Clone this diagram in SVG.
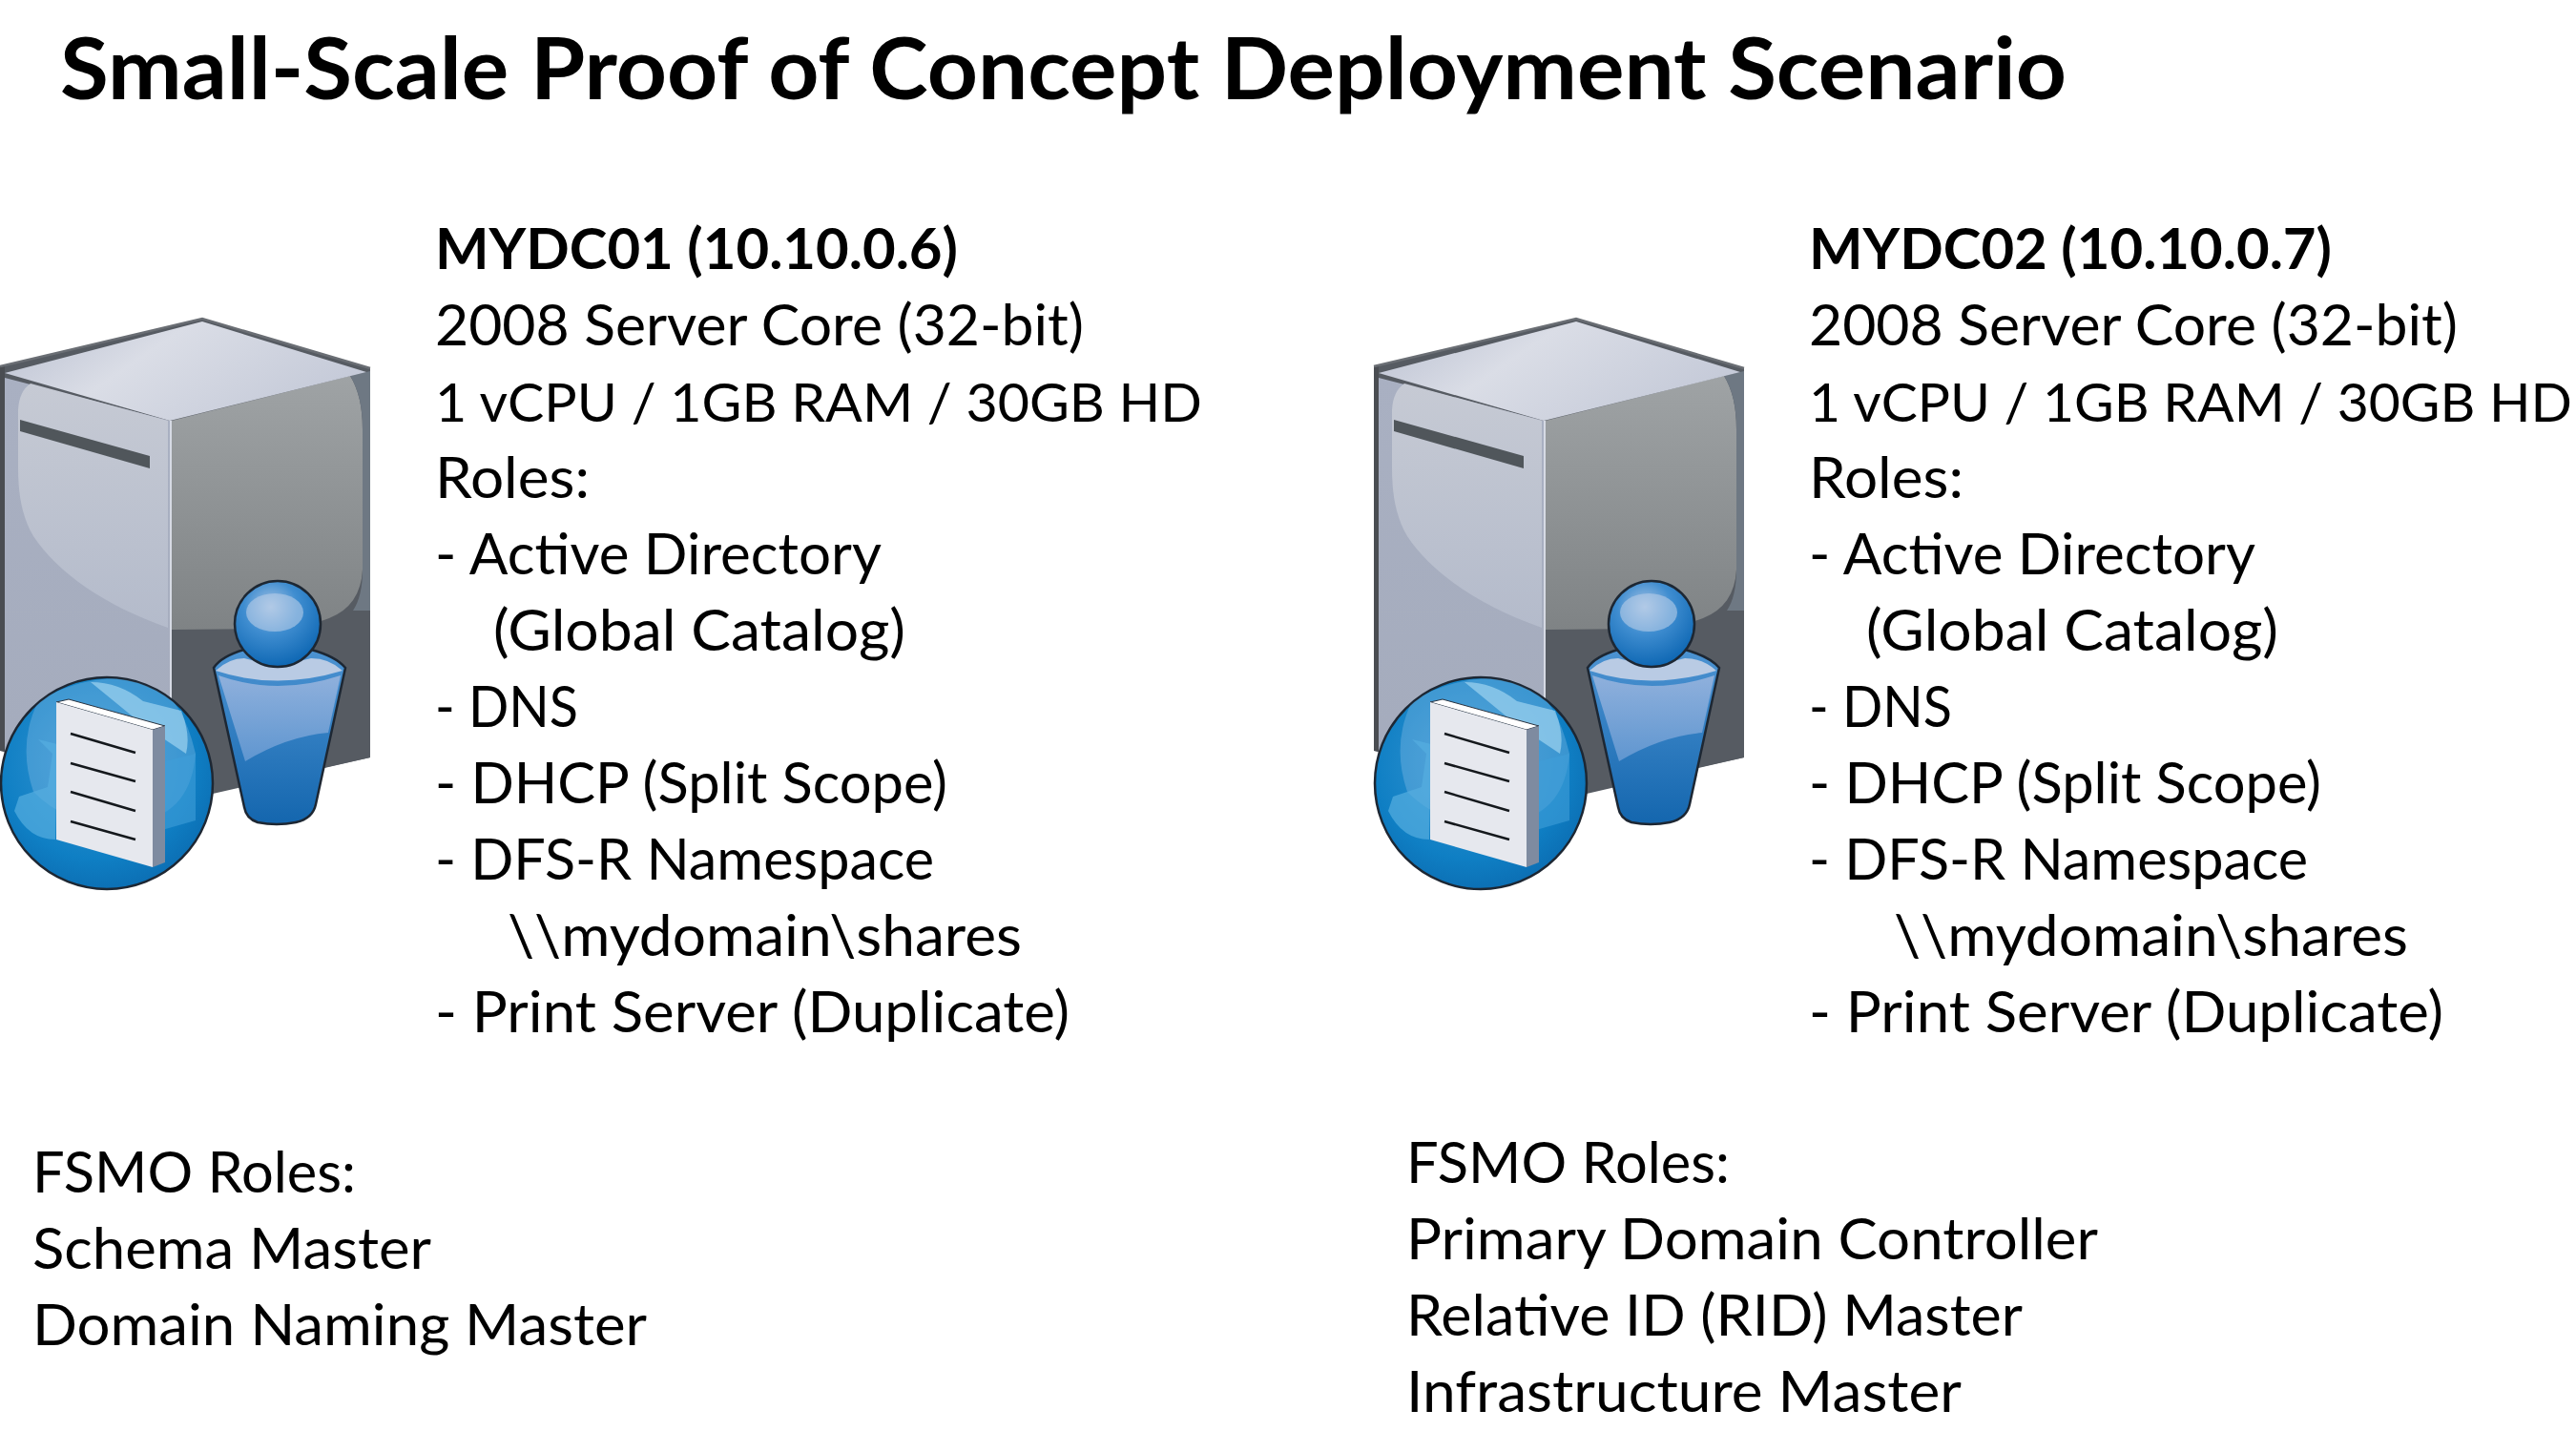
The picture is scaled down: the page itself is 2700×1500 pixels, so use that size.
<svg xmlns="http://www.w3.org/2000/svg" xmlns:xlink="http://www.w3.org/1999/xlink" width="2700" height="1500" viewBox="0 0 2700 1500">
<style>
text{font-family:"Lato","Carlito","Noto Sans",sans-serif;fill:#000;font-size:59.5px}
.b{font-weight:700}
.title{font-weight:700;font-size:90px}
.spec{font-size:57px}
</style>
<defs>
<linearGradient id="top" x1="0" y1="0" x2="1" y2="0.4"><stop offset="0" stop-color="#b9bfd0"/><stop offset="0.45" stop-color="#dadde6"/><stop offset="1" stop-color="#c6cbd9"/></linearGradient>
<linearGradient id="left" x1="0" y1="0" x2="0" y2="1"><stop offset="0" stop-color="#a9b0c2"/><stop offset="1" stop-color="#a4abbc"/></linearGradient>
<linearGradient id="leftHi" x1="0" y1="0" x2="0" y2="1"><stop offset="0" stop-color="#c6cad4"/><stop offset="1" stop-color="#b4bbcb"/></linearGradient>
<linearGradient id="rightHi" x1="0" y1="0" x2="0" y2="1"><stop offset="0" stop-color="#9fa3a5"/><stop offset="1" stop-color="#7f8385"/></linearGradient>
<radialGradient id="globe" cx="0.45" cy="0.4" r="0.65"><stop offset="0" stop-color="#3a98d4"/><stop offset="0.7" stop-color="#0f7fc4"/><stop offset="1" stop-color="#0b6bb0"/></radialGradient>
<linearGradient id="body" x1="0" y1="0" x2="0" y2="1"><stop offset="0" stop-color="#4c93d2"/><stop offset="1" stop-color="#1466ae"/></linearGradient>
<linearGradient id="bodyHi" x1="0" y1="0" x2="0" y2="1"><stop offset="0" stop-color="#8fb0dc"/><stop offset="1" stop-color="#5f96d0"/></linearGradient>
<radialGradient id="head" cx="0.42" cy="0.3" r="0.7"><stop offset="0" stop-color="#a9c4e4"/><stop offset="0.45" stop-color="#3f8dd0"/><stop offset="1" stop-color="#0f68b4"/></radialGradient>
<clipPath id="gc"><circle cx="112" cy="821" r="110"/></clipPath>
<g id="icon">
<path d="M0,384 L212,334 L388,386 L388,794 L223,832 L180,840 L0,787 Z" fill="#565b62"/>
<rect x="0" y="384" width="5" height="403" fill="#4a4d52"/>
<path d="M5,396 L178,441 L178,850 L5,787 Z" fill="url(#left)"/>
<path d="M32,402 L176,441 L176,658 C110,635 60,600 35,562 C22,540 19,515 19,490 L19,430 Q20,410 32,402 Z" fill="url(#leftHi)"/>
<path d="M178,441 L182,441 L182,850 L178,850 Z" fill="#d6dae4"/>
<path d="M180,441 L388,390 L388,794 L180,840 Z" fill="#565b62"/>
<path d="M180,441 L367,394 Q380,415 380,450 L380,597 Q378,635 345,648 Q320,658 280,659 L180,660 Z" fill="url(#rightHi)"/>
<path d="M367,394 L388,389 L388,640 L370,640 Q380,625 380,597 L380,450 Q380,415 367,394 Z" fill="#6e7883"/>
<path d="M5,391 L212,337 L384,390 L178,441 Z" fill="url(#top)"/>
<path d="M0,384 L212,334 L388,386" fill="none" stroke="#6a6e74" stroke-width="2.5"/>
<path d="M21,440 L157,478 L157,491 L21,452 Z" fill="#50565b"/>
<g id="person">
<path d="M224,700 Q232,688 256,681 L326,681 Q352,688 362,700 L331,843 Q328,858 310,862 Q290,866 270,862 Q258,858 256,846 Z" fill="url(#body)" stroke="#1d2733" stroke-width="2.5"/>
<path d="M229,708 Q290,730 357,708 L344,768 Q300,772 257,798 Z" fill="url(#bodyHi)"/>
<path d="M226,703 Q240,690 256,690 Q290,700 326,690 Q345,690 359,703 Q290,724 226,703 Z" fill="#b9cbe4"/>
<ellipse cx="291" cy="654" rx="45" ry="45" fill="url(#head)" stroke="#1d2733" stroke-width="2.5"/>
<ellipse cx="288" cy="642" rx="30" ry="20" fill="#b7cde8" opacity="0.6"/>
</g>
<g id="globeDoc">
<circle cx="112" cy="821" r="111" fill="url(#globe)" stroke="#1d2733" stroke-width="2.5"/>
<g clip-path="url(#gc)">
<path d="M40,735 Q90,705 150,712 Q190,725 205,790 Q200,850 150,860 Q80,875 35,830 Q18,780 40,735 Z" fill="#8cc0e8" opacity="0.35"/>
<path d="M95,715 Q125,715 150,735 L190,745 Q200,770 195,790 L150,760 Z" fill="#9ed3f0" opacity="0.7"/>
<path d="M20,835 L50,825 L55,790 L40,775 L60,780 L58,880 Q30,880 15,850 Z" fill="#55aee0" opacity="0.7"/>
<path d="M165,800 L205,790 L205,860 L170,870 Z" fill="#3f9ed8" opacity="0.6"/>
</g>
<path d="M59,736 L72,733 L173,761 L160,765 Z" fill="#fff" stroke="#2a3340" stroke-width="1"/>
<path d="M59,736 L160,765 L160,909 L59,880 Z" fill="#e6e8ee"/>
<path d="M160,765 L173,761 L173,904 L160,909 Z" fill="#7e8ba0"/>
<path d="M74,769 L142,789 M74,800 L142,819 M74,830 L142,850 M74,861 L142,880" stroke="#14181c" stroke-width="2.5" fill="none"/>
</g>
</g>
</defs>
<rect width="2700" height="1500" fill="#fff"/>
<text id="title" class="title" x="63" y="104" textLength="2103" lengthAdjust="spacingAndGlyphs">Small-Scale Proof of Concept Deployment Scenario</text>
<g id="MYDC01">
<use xlink:href="#icon" href="#icon"/>
<text class="b" x="456" y="282" textLength="548" lengthAdjust="spacingAndGlyphs">MYDC01 (10.10.0.6)</text>
<text x="456" y="362" textLength="680" lengthAdjust="spacingAndGlyphs">2008 Server Core (32-bit)</text>
<text class="spec" x="456" y="442" textLength="804" lengthAdjust="spacingAndGlyphs">1 vCPU / 1GB RAM / 30GB HD</text>
<text x="456" y="522" textLength="162" lengthAdjust="spacingAndGlyphs">Roles:</text>
<text x="456" y="602" textLength="468" lengthAdjust="spacingAndGlyphs">- Active Directory</text>
<text x="517" y="682" textLength="432" lengthAdjust="spacingAndGlyphs">(Global Catalog)</text>
<text x="456" y="762" textLength="150" lengthAdjust="spacingAndGlyphs">- DNS</text>
<text x="456" y="842" textLength="537" lengthAdjust="spacingAndGlyphs">- DHCP (Split Scope)</text>
<text x="456" y="922" textLength="523" lengthAdjust="spacingAndGlyphs">- DFS-R Namespace</text>
<text x="532" y="1002" textLength="539" lengthAdjust="spacingAndGlyphs">\\mydomain\shares</text>
<text x="456" y="1082" textLength="665" lengthAdjust="spacingAndGlyphs">- Print Server (Duplicate)</text>
</g>
<g id="MYDC01-fsmo">
<text x="34" y="1250" textLength="339" lengthAdjust="spacingAndGlyphs">FSMO Roles:</text>
<text x="34" y="1330" textLength="418" lengthAdjust="spacingAndGlyphs">Schema Master</text>
<text x="34" y="1410" textLength="644" lengthAdjust="spacingAndGlyphs">Domain Naming Master</text>
</g>
<g id="MYDC02">
<use xlink:href="#icon" href="#icon" x="1440"/>
<text class="b" x="1896" y="282" textLength="548" lengthAdjust="spacingAndGlyphs">MYDC02 (10.10.0.7)</text>
<text x="1896" y="362" textLength="680" lengthAdjust="spacingAndGlyphs">2008 Server Core (32-bit)</text>
<text class="spec" x="1896" y="442" textLength="800" lengthAdjust="spacingAndGlyphs">1 vCPU / 1GB RAM / 30GB HD</text>
<text x="1896" y="522" textLength="162" lengthAdjust="spacingAndGlyphs">Roles:</text>
<text x="1896" y="602" textLength="468" lengthAdjust="spacingAndGlyphs">- Active Directory</text>
<text x="1956" y="682" textLength="432" lengthAdjust="spacingAndGlyphs">(Global Catalog)</text>
<text x="1896" y="762" textLength="150" lengthAdjust="spacingAndGlyphs">- DNS</text>
<text x="1896" y="842" textLength="537" lengthAdjust="spacingAndGlyphs">- DHCP (Split Scope)</text>
<text x="1896" y="922" textLength="523" lengthAdjust="spacingAndGlyphs">- DFS-R Namespace</text>
<text x="1985" y="1002" textLength="539" lengthAdjust="spacingAndGlyphs">\\mydomain\shares</text>
<text x="1896" y="1082" textLength="665" lengthAdjust="spacingAndGlyphs">- Print Server (Duplicate)</text>
</g>
<g id="MYDC02-fsmo">
<text x="1474" y="1240" textLength="339" lengthAdjust="spacingAndGlyphs">FSMO Roles:</text>
<text x="1474" y="1320" textLength="725" lengthAdjust="spacingAndGlyphs">Primary Domain Controller</text>
<text x="1474" y="1400" textLength="646" lengthAdjust="spacingAndGlyphs">Relative ID (RID) Master</text>
<text x="1474" y="1480" textLength="582" lengthAdjust="spacingAndGlyphs">Infrastructure Master</text>
</g>
</svg>
